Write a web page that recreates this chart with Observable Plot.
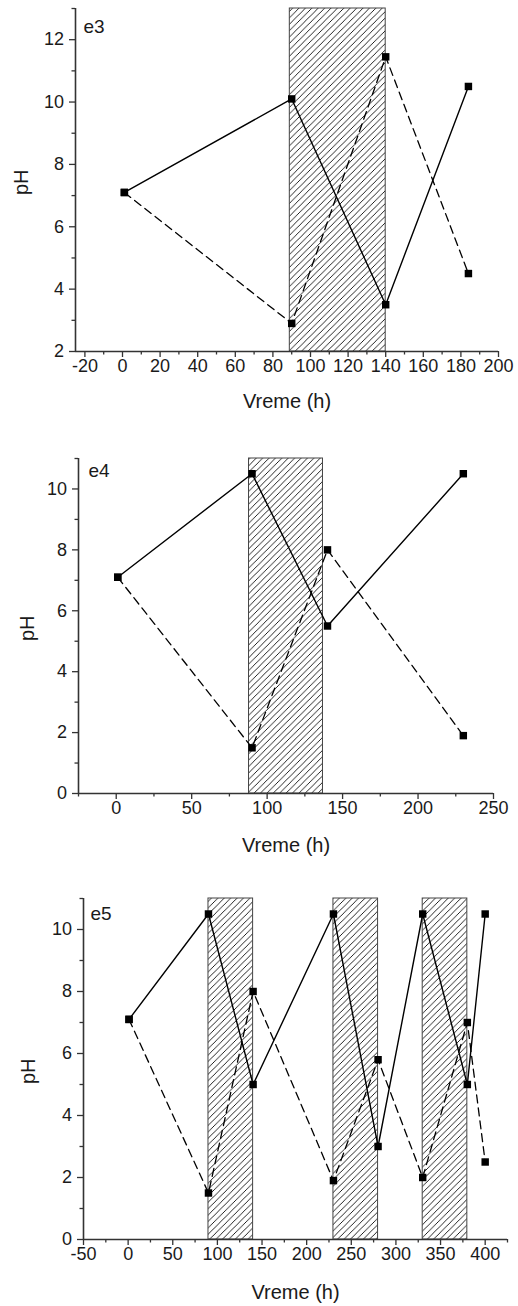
<!DOCTYPE html>
<html>
<head>
<meta charset="utf-8">
<script src="https://cdn.jsdelivr.net/npm/d3@7"></script>
<script src="https://cdn.jsdelivr.net/npm/@observablehq/plot@0.6"></script>
<style>
  html, body { margin: 0; padding: 0; background: #fff; }
  #charts svg { display: block; }
</style>
</head>
<body>
<svg width="0" height="0" style="position:absolute">
  <defs>
    <pattern id="hatch" patternUnits="userSpaceOnUse" width="6.4" height="6.4">
      <path d="M-1,1 L1,-1 M0,6.4 L6.4,0 M5.4,7.4 L7.4,5.4" stroke="#000" stroke-width="0.85" fill="none"/>
    </pattern>
  </defs>
</svg>
<div id="charts"></div>
<script>
// ---- data ----
const xLabel = "Vreme (h)";
const yLabel = "pH";

// panel e3
const e3Time = [1, 90, 140, 184];
const e3Solid = [7.1, 10.1, 3.5, 10.5];
const e3Dashed = [7.1, 2.9, 11.45, 4.5];
const e3BandStart = [89];
const e3BandEnd = [140];
const e3XTicks = [-20, 0, 20, 40, 60, 80, 100, 120, 140, 160, 180, 200];
const e3YTicks = [2, 4, 6, 8, 10, 12];

// panel e4
const e4Time = [1, 90, 140, 230];
const e4Solid = [7.1, 10.5, 5.5, 10.5];
const e4Dashed = [7.1, 1.5, 8.0, 1.9];
const e4BandStart = [88];
const e4BandEnd = [137];
const e4XTicks = [0, 50, 100, 150, 200, 250];
const e4YTicks = [0, 2, 4, 6, 8, 10];

// panel e5
const e5Time = [1, 90, 140, 230, 280, 330, 380, 400];
const e5Solid = [7.1, 10.5, 5.0, 10.5, 3.0, 10.5, 5.0, 10.5];
const e5Dashed = [7.1, 1.5, 8.0, 1.9, 5.8, 2.0, 7.0, 2.5];
const e5BandStart = [90, 230, 330];
const e5BandEnd = [140, 280, 380];
const e5XTicks = [-50, 0, 50, 100, 150, 200, 250, 300, 350, 400];
const e5YTicks = [0, 2, 4, 6, 8, 10];

function minorTicks(major, step, lo, hi) {
  const out = [];
  const first = major[0];
  for (let v = first - step * Math.floor((first - lo) / step); v <= hi + 1e-9; v += step) {
    if (!major.some(m => Math.abs(m - v) < 1e-9)) out.push(v);
  }
  return out;
}

function panel(cfg) {
  const solidData = cfg.time.map((t, i) => ({t, v: cfg.solid[i]}));
  const dashedData = cfg.time.map((t, i) => ({t, v: cfg.dashed[i]}));
  const bands = cfg.bandStart.map((s, i) => ({s, e: cfg.bandEnd[i], lo: cfg.yDomain[0], hi: cfg.yDomain[1]}));
  const axisColor = "#333";
  return Plot.plot({
    width: 518,
    height: cfg.height,
    marginTop: cfg.margins[0],
    marginRight: cfg.margins[1],
    marginBottom: cfg.margins[2],
    marginLeft: cfg.margins[3],
    x: {domain: cfg.xDomain, label: null},
    y: {domain: cfg.yDomain, label: null},
    style: {fontFamily: "'Liberation Sans', Arial, sans-serif", color: "#1a1a1a", background: "#fff", overflow: "visible"},
    marks: [
      Plot.rect(bands, {x1: "s", x2: "e", y1: "lo", y2: "hi", fill: "url(#hatch)", stroke: "#444", strokeWidth: 1}),
      Plot.line(dashedData, {x: "t", y: "v", stroke: "#000", strokeWidth: 1.3, strokeDasharray: "8,5"}),
      Plot.line(solidData, {x: "t", y: "v", stroke: "#000", strokeWidth: 1.4}),
      Plot.dot(solidData, {x: "t", y: "v", symbol: "square", r: 4.2, fill: "#000", stroke: "none"}),
      Plot.dot(dashedData, {x: "t", y: "v", symbol: "square", r: 4.2, fill: "#000", stroke: "none"}),
      Plot.axisX(cfg.xTicks, {tickSize: 6, tickPadding: 2, tickFormat: d => String(d), fontSize: 18, label: null, stroke: axisColor, strokeWidth: 1.3}),
      Plot.axisX(minorTicks(cfg.xTicks, cfg.xMinor, cfg.xDomain[0], cfg.xDomain[1]), {tickSize: 3.5, tickFormat: () => "", label: null, stroke: axisColor, strokeWidth: 1.3}),
      Plot.axisY(cfg.yTicks, {tickSize: 6, tickPadding: 5.5, tickFormat: d => String(d), fontSize: 18, label: null, stroke: axisColor, strokeWidth: 1.3}),
      Plot.axisY(minorTicks(cfg.yTicks, cfg.yMinor, cfg.yDomain[0], cfg.yDomain[1]), {tickSize: 3.5, tickFormat: () => "", label: null, stroke: axisColor, strokeWidth: 1.3}),
      Plot.ruleY([cfg.yDomain[0]], {stroke: axisColor, strokeWidth: 1.6}),
      Plot.ruleX([cfg.xDomain[0]], {stroke: axisColor, strokeWidth: 1.6}),
      Plot.text([xLabel], {frameAnchor: "bottom", dy: cfg.xLabelDy, lineAnchor: "middle", fontSize: 20, fill: "#1a1a1a"}),
      Plot.text([yLabel], {frameAnchor: "left", dx: -cfg.yLabelDx, dy: 15, rotate: -90, lineAnchor: "middle", fontSize: 20, fill: "#1a1a1a"}),
      Plot.text([cfg.name], {frameAnchor: "top-left", dx: cfg.nameDx, dy: cfg.nameDy, textAnchor: "start", lineAnchor: "top", fontSize: 19, fill: "#1a1a1a"})
    ]
  });
}

const host = document.getElementById("charts");
host.append(panel({
  name: "e3", time: e3Time, solid: e3Solid, dashed: e3Dashed,
  bandStart: e3BandStart, bandEnd: e3BandEnd,
  xDomain: [-25, 200], yDomain: [2, 13], xTicks: e3XTicks, yTicks: e3YTicks, xMinor: 10, yMinor: 1,
  height: 420, margins: [8, 20, 69, 75], xLabelDy: 50, yLabelDx: 54, nameDx: 8, nameDy: 11
}));
host.append(panel({
  name: "e4", time: e4Time, solid: e4Solid, dashed: e4Dashed,
  bandStart: e4BandStart, bandEnd: e4BandEnd,
  xDomain: [-25, 250], yDomain: [0, 11], xTicks: e4XTicks, yTicks: e4YTicks, xMinor: 25, yMinor: 1,
  height: 440, margins: [38, 25, 67, 78], xLabelDy: 52, yLabelDx: 51, nameDx: 10, nameDy: 5
}));
host.append(panel({
  name: "e5", time: e5Time, solid: e5Solid, dashed: e5Dashed,
  bandStart: e5BandStart, bandEnd: e5BandEnd,
  xDomain: [-50, 425], yDomain: [0, 11], xTicks: e5XTicks, yTicks: e5YTicks, xMinor: 25, yMinor: 1,
  height: 446, margins: [38, 11, 67, 83], xLabelDy: 53, yLabelDx: 55, nameDx: 7, nameDy: 8
}));
</script>
</body>
</html>
